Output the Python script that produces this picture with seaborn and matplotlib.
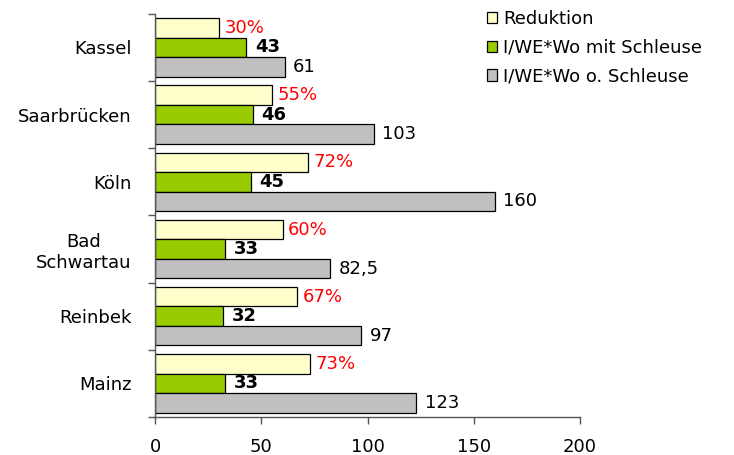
import matplotlib
matplotlib.use("Agg")
import matplotlib.pyplot as plt
import seaborn as sns
import pandas as pd
import numpy as np

cities = ["Kassel", "Saarbrücken", "Köln", "Bad\nSchwartau", "Reinbek", "Mainz"]
reduktion = [30, 55, 72, 60, 67, 73]
mit_schleuse = [43, 46, 45, 33, 32, 33]
ohne_schleuse = [61, 103, 160, 82.5, 97, 123]
ohne_labels = ["61", "103", "160", "82,5", "97", "123"]
series = ["Reduktion", "I/WE*Wo mit Schleuse", "I/WE*Wo o. Schleuse"]
colors = ["#FFFFCC", "#99CC00", "#C0C0C0"]
xticks = [0, 50, 100, 150, 200]

rows = []
for i, c in enumerate(cities):
    rows.append((c, series[0], reduktion[i]))
    rows.append((c, series[1], mit_schleuse[i]))
    rows.append((c, series[2], ohne_schleuse[i]))
df = pd.DataFrame(rows, columns=["city", "series", "value"])

sns.set_theme(style="white")
plt.rcParams["font.family"] = ["DejaVu Sans"]
plt.rcParams["text.color"] = "black"
plt.rcParams["xtick.labelcolor"] = "black"
plt.rcParams["ytick.labelcolor"] = "black"

FS = 13

fig = plt.figure(figsize=(7.34, 4.55), dpi=100)
ax = fig.add_axes([0.2112, 0.0835, 0.579, 0.886])
sns.barplot(data=df, y="city", x="value", hue="series", order=cities,
            hue_order=series, palette=colors, orient="h", width=0.87,
            edgecolor="black", linewidth=0.9, saturation=1, ax=ax, legend=True)

ax.set_xlim(0, 200)
ax.set_ylim(len(cities) - 0.5, -0.5)
ax.set_xticks(xticks)
ax.set_xticklabels([str(t) for t in xticks], fontsize=FS)
ax.set_xlabel("")
ax.set_ylabel("")
ax.tick_params(axis="y", which="major", length=0, pad=17, labelsize=FS)
ax.tick_params(axis="x", which="major", length=5, width=1, color="#555555",
               direction="out", pad=10, bottom=True)
ax.set_yticks(np.arange(-0.5, len(cities) + 0.5, 1), minor=True)
ax.tick_params(axis="y", which="minor", length=5, width=1, color="#555555",
               direction="out", left=True)
for lbl in ax.get_yticklabels():
    lbl.set_horizontalalignment("right")
    lbl.set_multialignment("center")

for s in ["top", "right"]:
    ax.spines[s].set_visible(False)
for s in ["left", "bottom"]:
    ax.spines[s].set_color("#555555")
    ax.spines[s].set_linewidth(1)

containers = ax.containers
ax.bar_label(containers[0], labels=[f"{v}%" for v in reduktion], padding=4,
             color="red", fontsize=FS)
ax.bar_label(containers[1], labels=[str(v) for v in mit_schleuse], padding=6,
             color="black", fontsize=FS, fontweight="bold")
ax.bar_label(containers[2], labels=ohne_labels, padding=6, color="black",
             fontsize=FS)

leg = ax.legend(loc="upper left", bbox_to_anchor=(0.78, 1.01), frameon=False,
                fontsize=FS, handlelength=0.6, handleheight=0.6,
                handletextpad=0.3, labelspacing=0.6, borderaxespad=0,
                borderpad=0)
for t in leg.get_texts():
    t.set_color("black")

fig.savefig("out.png", dpi=100)
